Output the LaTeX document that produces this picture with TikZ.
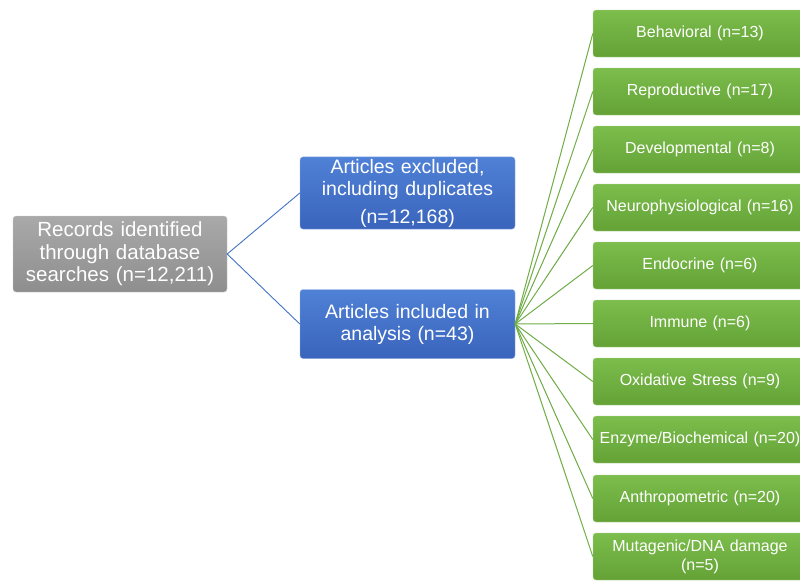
\documentclass[tikz,border=0pt]{standalone}
\usepackage{fontspec}
\setmainfont{Liberation Sans}
\definecolor{grayA}{HTML}{A9A9A9}
\definecolor{grayB}{HTML}{8E8E8E}
\definecolor{blueA}{HTML}{4F81D6}
\definecolor{blueB}{HTML}{3A64BC}
\definecolor{greenA}{HTML}{7CBD4C}
\definecolor{greenB}{HTML}{64A236}
\definecolor{blueline}{HTML}{4472C4}
\definecolor{greenline}{HTML}{70AD47}
\tikzset{
  box/.style={rounded corners=3pt, text=white, align=center, inner sep=2pt},
  graybox/.style={box, top color=grayA, bottom color=grayB, draw=grayA!60!white,
    minimum width=213pt, minimum height=76pt, text width=210pt,
    font=\fontsize{20.5}{22.5}\selectfont},
  bluebox/.style={box, top color=blueA, bottom color=blueB, draw=blueA!60!white,
    minimum width=215pt, minimum height=69pt, text width=210pt,
    font=\fontsize{19.5}{22}\selectfont},
  greenbox/.style={box, top color=greenA, bottom color=greenB, draw=greenA!60!white,
    minimum width=214pt, minimum height=47pt, text width=210pt,
    font=\fontsize{16}{19}\selectfont},
  blink/.style={draw=blueline, line width=0.9pt},
  glink/.style={draw=greenline, line width=1pt}
}
\begin{document}
\begin{tikzpicture}[x=1pt,y=-1pt]
\useasboundingbox[fill=white] (0,0) rectangle (800,581);
\clip (0,0) rectangle (800,581);
% search and screening
\node[graybox] (records) at (120,254) {Records identified\\ through database\\ searches (n=12,211)};
\node[bluebox] (excluded) at (407.5,193) {Articles excluded,\\ including duplicates\\[6pt] (n=12,168)};
\node[bluebox] (included) at (407.5,324) {Articles included in\\ analysis (n=43)};
% outcome categories
\node[greenbox] (behav) at (700,33.5) {Behavioral (n=13)};
\node[greenbox] (repro) at (700,91.5) {Reproductive (n=17)};
\node[greenbox] (devel) at (700,149.5) {Developmental (n=8)};
\node[greenbox] (neuro) at (700,207.5) {Neurophysiological (n=16)};
\node[greenbox] (endo) at (700,265.5) {Endocrine (n=6)};
\node[greenbox] (immune) at (700,323.5) {Immune (n=6)};
\node[greenbox] (oxid) at (700,381.5) {Oxidative Stress (n=9)};
\node[greenbox] (enzyme) at (700,439.5) {Enzyme/Biochemical (n=20)};
\node[greenbox] (anthro) at (700,498.5) {Anthropometric (n=20)};
\node[greenbox] (mutag) at (700,556.5) {Mutagenic/DNA damage\\ (n=5)};
% connectors
\draw[blink] (records.east) -- (excluded.west);
\draw[blink] (records.east) -- (included.west);
\draw[glink] (included.east) -- (behav.west);
\draw[glink] (included.east) -- (repro.west);
\draw[glink] (included.east) -- (devel.west);
\draw[glink] (included.east) -- (neuro.west);
\draw[glink] (included.east) -- (endo.west);
\draw[glink] (included.east) -- (immune.west);
\draw[glink] (included.east) -- (oxid.west);
\draw[glink] (included.east) -- (enzyme.west);
\draw[glink] (included.east) -- (anthro.west);
\draw[glink] (included.east) -- (mutag.west);
\end{tikzpicture}
\end{document}
